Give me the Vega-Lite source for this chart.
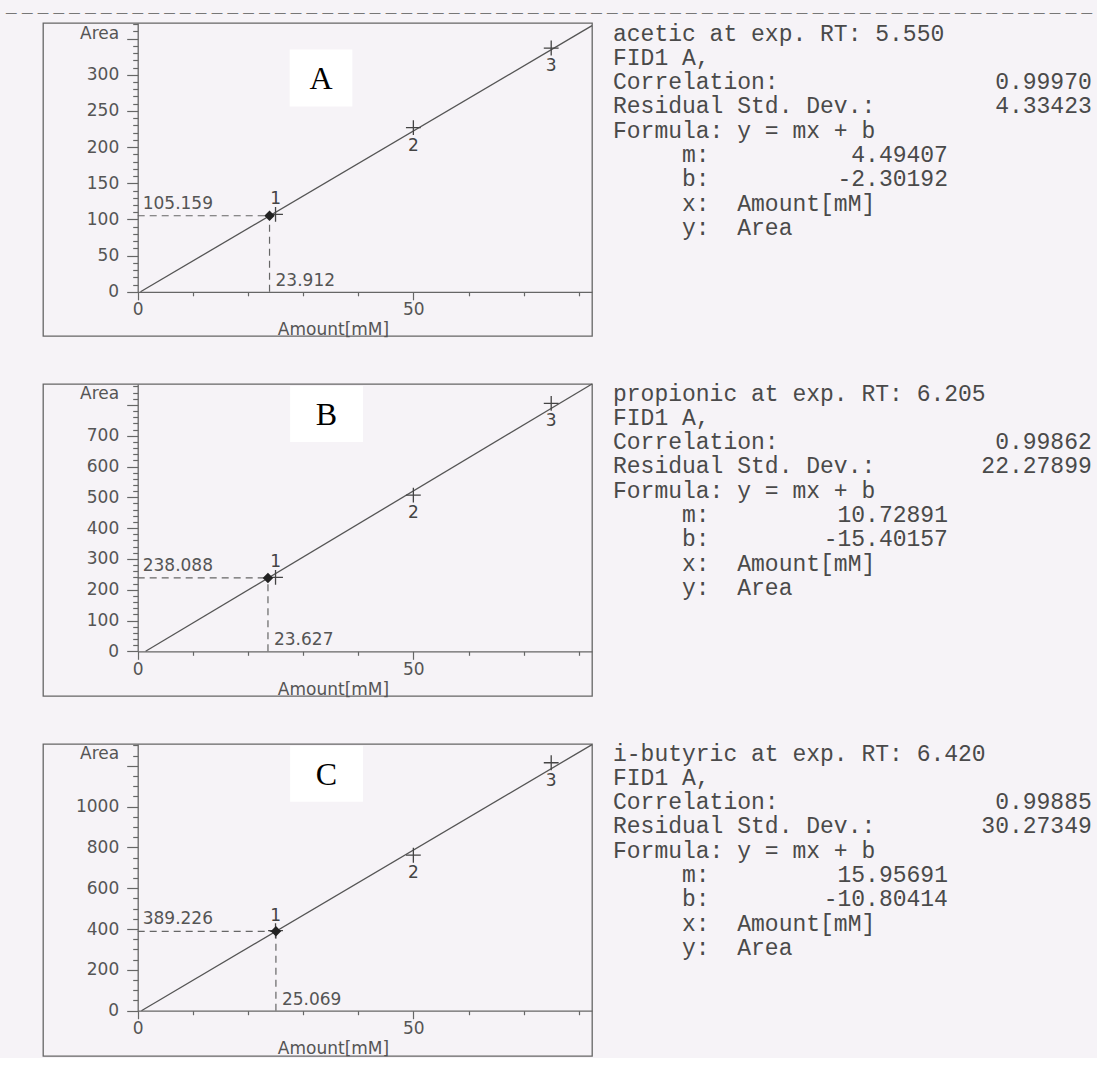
{
  "$schema": "https://vega.github.io/schema/vega-lite/v6.json",
  "background": "#f6f3f7",
  "padding": {"left": 5, "top": 6, "right": 0, "bottom": 0},
  "title": {
    "text": "— — — — — — — — — — — — — — — — — — — — — — — — — — — — — — — — — — — — — — — — — — — — — — — — — — — — — — — — — — — — — — — — — — — — —",
    "anchor": "start",
    "font": "DejaVu Sans",
    "fontSize": 12,
    "fontWeight": "normal",
    "color": "#777777",
    "dx": -37,
    "offset": -5
  },
  "datasets": {
    "fit": [
      {"panel": "A", "amount": 0.512, "area": 0},
      {"panel": "A", "amount": 82.4, "area": 368.0},
      {"panel": "B", "amount": 1.436, "area": 0},
      {"panel": "B", "amount": 82.4, "area": 867.9},
      {"panel": "C", "amount": 0.677, "area": 0},
      {"panel": "C", "amount": 82.4, "area": 1304.0}
    ],
    "calib": [
      {"panel": "A", "amount": 25, "area": 107, "n": "1"},
      {"panel": "A", "amount": 50, "area": 227, "n": "2"},
      {"panel": "A", "amount": 75, "area": 337, "n": "3"},
      {"panel": "B", "amount": 25, "area": 240, "n": "1"},
      {"panel": "B", "amount": 50, "area": 507, "n": "2"},
      {"panel": "B", "amount": 75, "area": 805, "n": "3"},
      {"panel": "C", "amount": 25, "area": 392, "n": "1"},
      {"panel": "C", "amount": 50, "area": 762, "n": "2"},
      {"panel": "C", "amount": 75, "area": 1215, "n": "3"}
    ],
    "unknown": [
      {"panel": "A", "amount": 23.912, "area": 105.159},
      {"panel": "B", "amount": 23.627, "area": 238.088},
      {"panel": "C", "amount": 25.069, "area": 389.226}
    ],
    "tags": [
      {"panel": "A", "amount": 33.25, "area": 295.6, "tag": "A"},
      {"panel": "B", "amount": 34.25, "area": 770.5, "tag": "B"},
      {"panel": "C", "amount": 34.25, "area": 1161.8, "tag": "C"}
    ],
    "info": [
      {"panel": "A", "line": 0, "label": "acetic at exp. RT: 5.550", "kind": "head", "value": ""},
      {"panel": "A", "line": 1, "label": "FID1 A,", "kind": "head", "value": ""},
      {"panel": "A", "line": 2, "label": "Correlation:", "kind": "stat", "value": "0.99970"},
      {"panel": "A", "line": 3, "label": "Residual Std. Dev.:", "kind": "stat", "value": "4.33423"},
      {"panel": "A", "line": 4, "label": "Formula: y = mx + b", "kind": "head", "value": ""},
      {"panel": "A", "line": 5, "label": "\u200b\u00a0\u00a0\u00a0\u00a0\u00a0m:", "kind": "coef", "value": "4.49407"},
      {"panel": "A", "line": 6, "label": "\u200b\u00a0\u00a0\u00a0\u00a0\u00a0b:", "kind": "coef", "value": "-2.30192"},
      {"panel": "A", "line": 7, "label": "\u200b\u00a0\u00a0\u00a0\u00a0\u00a0x:\u00a0\u00a0Amount[mM]", "kind": "head", "value": ""},
      {"panel": "A", "line": 8, "label": "\u200b\u00a0\u00a0\u00a0\u00a0\u00a0y:\u00a0\u00a0Area", "kind": "head", "value": ""},
      {"panel": "B", "line": 0, "label": "propionic at exp. RT: 6.205", "kind": "head", "value": ""},
      {"panel": "B", "line": 1, "label": "FID1 A,", "kind": "head", "value": ""},
      {"panel": "B", "line": 2, "label": "Correlation:", "kind": "stat", "value": "0.99862"},
      {"panel": "B", "line": 3, "label": "Residual Std. Dev.:", "kind": "stat", "value": "22.27899"},
      {"panel": "B", "line": 4, "label": "Formula: y = mx + b", "kind": "head", "value": ""},
      {"panel": "B", "line": 5, "label": "\u200b\u00a0\u00a0\u00a0\u00a0\u00a0m:", "kind": "coef", "value": "10.72891"},
      {"panel": "B", "line": 6, "label": "\u200b\u00a0\u00a0\u00a0\u00a0\u00a0b:", "kind": "coef", "value": "-15.40157"},
      {"panel": "B", "line": 7, "label": "\u200b\u00a0\u00a0\u00a0\u00a0\u00a0x:\u00a0\u00a0Amount[mM]", "kind": "head", "value": ""},
      {"panel": "B", "line": 8, "label": "\u200b\u00a0\u00a0\u00a0\u00a0\u00a0y:\u00a0\u00a0Area", "kind": "head", "value": ""},
      {"panel": "C", "line": 0, "label": "i-butyric at exp. RT: 6.420", "kind": "head", "value": ""},
      {"panel": "C", "line": 1, "label": "FID1 A,", "kind": "head", "value": ""},
      {"panel": "C", "line": 2, "label": "Correlation:", "kind": "stat", "value": "0.99885"},
      {"panel": "C", "line": 3, "label": "Residual Std. Dev.:", "kind": "stat", "value": "30.27349"},
      {"panel": "C", "line": 4, "label": "Formula: y = mx + b", "kind": "head", "value": ""},
      {"panel": "C", "line": 5, "label": "\u200b\u00a0\u00a0\u00a0\u00a0\u00a0m:", "kind": "coef", "value": "15.95691"},
      {"panel": "C", "line": 6, "label": "\u200b\u00a0\u00a0\u00a0\u00a0\u00a0b:", "kind": "coef", "value": "-10.80414"},
      {"panel": "C", "line": 7, "label": "\u200b\u00a0\u00a0\u00a0\u00a0\u00a0x:\u00a0\u00a0Amount[mM]", "kind": "head", "value": ""},
      {"panel": "C", "line": 8, "label": "\u200b\u00a0\u00a0\u00a0\u00a0\u00a0y:\u00a0\u00a0Area", "kind": "head", "value": ""}
    ]
  },
  "config": {
    "view": {"stroke": "#666666", "strokeWidth": 1.3},
    "axis": {
      "labelFont": "DejaVu Sans", "labelFontSize": 17, "labelColor": "#555555",
      "titleFont": "DejaVu Sans", "titleFontSize": 17, "titleColor": "#555555", "titleFontWeight": "normal",
      "domainColor": "#666666", "domainWidth": 1.3, "tickColor": "#666666", "tickWidth": 1.2,
      "grid": false, "labelFlush": false, "labelOverlap": false, "labelBound": false, "format": "d"
    },
    "text": {"font": "DejaVu Sans"}
  },
  "spacing": 37,
  "vconcat": [
    {
      "spacing": 15,
      "hconcat": [
        {
          "width": 549, "height": 313,
          "encoding": {
            "x": {"field": "amount", "type": "quantitative",
              "scale": {"domain": [0, 82.4], "range": [94.7, 549], "nice": false, "zero": false},
              "axis": {"orient": "bottom", "offset": -44.2, "values": [0,10,20,30,40,50,60,70,80],
                "labelExpr": "datum.value % 50 === 0 ? datum.label : ''", "labelFontSize": 17,
                "tickSize": {"condition": {"test": "datum.value % 50 === 0", "value": 8}, "value": 4},
                "labelPadding": 2, "title": "Amount[mM]", "titleX": 290, "titleY": 38,
                "titleAlign": "center", "titleBaseline": "middle"}},
            "y": {"field": "area", "type": "quantitative",
              "scale": {"domain": [0, 371.6], "range": [268.8, 0], "nice": false, "zero": false},
              "axis": {"orient": "left", "offset": -94.7,
                "values": [0,10,20,30,40,50,60,70,80,90,100,110,120,130,140,150,160,170,180,190,200,210,220,230,240,250,260,270,280,290,300,310,320,330,340,350,360,370],
                "labelExpr": "datum.value % 50 === 0 && datum.value <= 300 ? datum.label : ''", "labelFontSize": 17,
                "tickSize": {"condition": {"test": "datum.value % 50 === 0", "value": 11}, "value": 5},
                "labelPadding": 8, "title": "Area", "titleAngle": 0, "titleAlign": "right",
                "titleBaseline": "middle", "titleX": -19, "titleY": 10}}
          },
          "layer": [
            {"data": {"name": "fit"}, "transform": [{"filter": "datum.panel === 'A'"}],
             "mark": {"type": "line", "color": "#555555", "strokeWidth": 1.3}},
            {"data": {"name": "unknown"}, "transform": [{"filter": "datum.panel === 'A'"}],
             "mark": {"type": "rule", "color": "#666666", "strokeDash": [7, 5], "strokeWidth": 1.2},
             "encoding": {"x": {"datum": 0, "type": "quantitative"}, "x2": {"field": "amount"}}},
            {"data": {"name": "unknown"}, "transform": [{"filter": "datum.panel === 'A'"}],
             "mark": {"type": "rule", "color": "#666666", "strokeDash": [7, 5], "strokeWidth": 1.2},
             "encoding": {"y": {"datum": 0, "type": "quantitative"}, "y2": {"field": "area"}}},
            {"data": {"name": "calib"}, "transform": [{"filter": "datum.panel === 'A'"}],
             "mark": {"type": "point", "shape": "M-1,0H1M0,-1V1", "filled": false, "color": "#444444", "strokeWidth": 1.3, "size": 220, "opacity": 1}},
            {"data": {"name": "unknown"}, "transform": [{"filter": "datum.panel === 'A'"}],
             "mark": {"type": "point", "shape": "diamond", "filled": true, "color": "#222222", "size": 110, "opacity": 1}},
            {"data": {"name": "calib"}, "transform": [{"filter": "datum.panel === 'A' && datum.n === '1'"}],
             "mark": {"type": "text", "fontSize": 17, "color": "#444444", "dy": -15, "baseline": "middle"},
             "encoding": {"text": {"field": "n"}}},
            {"data": {"name": "calib"}, "transform": [{"filter": "datum.panel === 'A' && datum.n !== '1'"}],
             "mark": {"type": "text", "fontSize": 17, "color": "#444444", "dy": 18, "baseline": "middle"},
             "encoding": {"text": {"field": "n"}}},
            {"data": {"name": "unknown"}, "transform": [{"filter": "datum.panel === 'A'"}],
             "mark": {"type": "text", "fontSize": 17, "color": "#555555", "dx": 5, "dy": -12, "align": "left", "baseline": "middle"},
             "encoding": {"x": {"datum": 0, "type": "quantitative"}, "text": {"field": "area", "format": ".3f"}}},
            {"data": {"name": "unknown"}, "transform": [{"filter": "datum.panel === 'A'"}],
             "mark": {"type": "text", "fontSize": 17, "color": "#555555", "dx": 6, "dy": -11, "align": "left", "baseline": "middle"},
             "encoding": {"y": {"datum": 0, "type": "quantitative"}, "text": {"field": "amount", "format": ".3f"}}},
            {"data": {"name": "tags"}, "transform": [{"filter": "datum.panel === 'A'"}],
             "mark": {"type": "point", "shape": "M-1.1,-1H1.1V1H-1.1Z", "filled": true, "color": "#ffffff", "size": 3249, "opacity": 1, "strokeWidth": 0}},
            {"data": {"name": "tags"}, "transform": [{"filter": "datum.panel === 'A'"}],
             "mark": {"type": "text", "font": "Liberation Serif", "fontSize": 32, "color": "#000000", "align": "center", "baseline": "middle", "dy": 1},
             "encoding": {"text": {"field": "tag"}}}
          ]
        },
        {
          "width": 491, "height": 313,
          "view": {"stroke": null},
          "data": {"name": "info"},
          "transform": [{"filter": "datum.panel === 'A'"}],
          "encoding": {
            "y": {"field": "line", "type": "quantitative", "scale": {"domain": [0, 8], "range": [10.5, 205], "nice": false, "zero": false}, "axis": null}
          },
          "layer": [
            {"mark": {"type": "text", "font": "Liberation Mono", "fontSize": 23, "color": "#4a4a4a", "align": "left", "baseline": "middle"},
             "encoding": {"x": {"datum": 0.125, "type": "quantitative", "scale": {"domain": [0, 30.69], "range": [0, 491], "nice": false, "zero": false}, "axis": null}, "text": {"field": "label"}}},
            {"transform": [{"filter": "datum.kind === 'stat'"}],
             "mark": {"type": "text", "font": "Liberation Mono", "fontSize": 23, "color": "#4a4a4a", "align": "right", "baseline": "middle"},
             "encoding": {"x": {"datum": 30.05, "type": "quantitative"}, "text": {"field": "value"}}},
            {"transform": [{"filter": "datum.kind === 'coef'"}],
             "mark": {"type": "text", "font": "Liberation Mono", "fontSize": 23, "color": "#4a4a4a", "align": "right", "baseline": "middle"},
             "encoding": {"x": {"datum": 21.06, "type": "quantitative"}, "text": {"field": "value"}}}
          ]
        }
      ]
    },
    {
      "spacing": 15,
      "hconcat": [
        {
          "width": 549, "height": 312,
          "encoding": {
            "x": {"field": "amount", "type": "quantitative",
              "scale": {"domain": [0, 82.4], "range": [94.7, 549], "nice": false, "zero": false},
              "axis": {"orient": "bottom", "offset": -44.7, "values": [0,10,20,30,40,50,60,70,80],
                "labelExpr": "datum.value % 50 === 0 ? datum.label : ''", "labelFontSize": 17,
                "tickSize": {"condition": {"test": "datum.value % 50 === 0", "value": 8}, "value": 4},
                "labelPadding": 2, "title": "Amount[mM]", "titleX": 290, "titleY": 38,
                "titleAlign": "center", "titleBaseline": "middle"}},
            "y": {"field": "area", "type": "quantitative",
              "scale": {"domain": [0, 867.9], "range": [267.3, 0], "nice": false, "zero": false},
              "axis": {"orient": "left", "offset": -94.7,
                "values": [0,20,40,60,80,100,120,140,160,180,200,220,240,260,280,300,320,340,360,380,400,420,440,460,480,500,520,540,560,580,600,620,640,660,680,700,720,740,760,780,800,820,840,860],
                "labelExpr": "datum.value % 100 === 0 && datum.value <= 700 ? datum.label : ''", "labelFontSize": 17,
                "tickSize": {"condition": {"test": "datum.value % 100 === 0", "value": 11}, "value": 5},
                "labelPadding": 8, "title": "Area", "titleAngle": 0, "titleAlign": "right",
                "titleBaseline": "middle", "titleX": -19, "titleY": 9}}
          },
          "layer": [
            {"data": {"name": "fit"}, "transform": [{"filter": "datum.panel === 'B'"}],
             "mark": {"type": "line", "color": "#555555", "strokeWidth": 1.3}},
            {"data": {"name": "unknown"}, "transform": [{"filter": "datum.panel === 'B'"}],
             "mark": {"type": "rule", "color": "#666666", "strokeDash": [7, 5], "strokeWidth": 1.2},
             "encoding": {"x": {"datum": 0, "type": "quantitative"}, "x2": {"field": "amount"}}},
            {"data": {"name": "unknown"}, "transform": [{"filter": "datum.panel === 'B'"}],
             "mark": {"type": "rule", "color": "#666666", "strokeDash": [7, 5], "strokeWidth": 1.2},
             "encoding": {"y": {"datum": 0, "type": "quantitative"}, "y2": {"field": "area"}}},
            {"data": {"name": "calib"}, "transform": [{"filter": "datum.panel === 'B'"}],
             "mark": {"type": "point", "shape": "M-1,0H1M0,-1V1", "filled": false, "color": "#444444", "strokeWidth": 1.3, "size": 220, "opacity": 1}},
            {"data": {"name": "unknown"}, "transform": [{"filter": "datum.panel === 'B'"}],
             "mark": {"type": "point", "shape": "diamond", "filled": true, "color": "#222222", "size": 110, "opacity": 1}},
            {"data": {"name": "calib"}, "transform": [{"filter": "datum.panel === 'B' && datum.n === '1'"}],
             "mark": {"type": "text", "fontSize": 17, "color": "#444444", "dy": -15, "baseline": "middle"},
             "encoding": {"text": {"field": "n"}}},
            {"data": {"name": "calib"}, "transform": [{"filter": "datum.panel === 'B' && datum.n !== '1'"}],
             "mark": {"type": "text", "fontSize": 17, "color": "#444444", "dy": 18, "baseline": "middle"},
             "encoding": {"text": {"field": "n"}}},
            {"data": {"name": "unknown"}, "transform": [{"filter": "datum.panel === 'B'"}],
             "mark": {"type": "text", "fontSize": 17, "color": "#555555", "dx": 5, "dy": -12, "align": "left", "baseline": "middle"},
             "encoding": {"x": {"datum": 0, "type": "quantitative"}, "text": {"field": "area", "format": ".3f"}}},
            {"data": {"name": "unknown"}, "transform": [{"filter": "datum.panel === 'B'"}],
             "mark": {"type": "text", "fontSize": 17, "color": "#555555", "dx": 6, "dy": -11, "align": "left", "baseline": "middle"},
             "encoding": {"y": {"datum": 0, "type": "quantitative"}, "text": {"field": "amount", "format": ".3f"}}},
            {"data": {"name": "tags"}, "transform": [{"filter": "datum.panel === 'B'"}],
             "mark": {"type": "point", "shape": "M-1.3,-1H1.3V1H-1.3Z", "filled": true, "color": "#ffffff", "size": 3136, "opacity": 1, "strokeWidth": 0}},
            {"data": {"name": "tags"}, "transform": [{"filter": "datum.panel === 'B'"}],
             "mark": {"type": "text", "font": "Liberation Serif", "fontSize": 32, "color": "#000000", "align": "center", "baseline": "middle", "dy": 1},
             "encoding": {"text": {"field": "tag"}}}
          ]
        },
        {
          "width": 491, "height": 312,
          "view": {"stroke": null},
          "data": {"name": "info"},
          "transform": [{"filter": "datum.panel === 'B'"}],
          "encoding": {
            "y": {"field": "line", "type": "quantitative", "scale": {"domain": [0, 8], "range": [9.5, 204], "nice": false, "zero": false}, "axis": null}
          },
          "layer": [
            {"mark": {"type": "text", "font": "Liberation Mono", "fontSize": 23, "color": "#4a4a4a", "align": "left", "baseline": "middle"},
             "encoding": {"x": {"datum": 0.125, "type": "quantitative", "scale": {"domain": [0, 30.69], "range": [0, 491], "nice": false, "zero": false}, "axis": null}, "text": {"field": "label"}}},
            {"transform": [{"filter": "datum.kind === 'stat'"}],
             "mark": {"type": "text", "font": "Liberation Mono", "fontSize": 23, "color": "#4a4a4a", "align": "right", "baseline": "middle"},
             "encoding": {"x": {"datum": 30.05, "type": "quantitative"}, "text": {"field": "value"}}},
            {"transform": [{"filter": "datum.kind === 'coef'"}],
             "mark": {"type": "text", "font": "Liberation Mono", "fontSize": 23, "color": "#4a4a4a", "align": "right", "baseline": "middle"},
             "encoding": {"x": {"datum": 21.06, "type": "quantitative"}, "text": {"field": "value"}}}
          ]
        }
      ]
    },
    {
      "spacing": 15,
      "hconcat": [
        {
          "width": 549, "height": 312,
          "encoding": {
            "x": {"field": "amount", "type": "quantitative",
              "scale": {"domain": [0, 82.4], "range": [94.7, 549], "nice": false, "zero": false},
              "axis": {"orient": "bottom", "offset": -45.3, "values": [0,10,20,30,40,50,60,70,80],
                "labelExpr": "datum.value % 50 === 0 ? datum.label : ''", "labelFontSize": 17,
                "tickSize": {"condition": {"test": "datum.value % 50 === 0", "value": 8}, "value": 4},
                "labelPadding": 2, "title": "Amount[mM]", "titleX": 290, "titleY": 38,
                "titleAlign": "center", "titleBaseline": "middle"}},
            "y": {"field": "area", "type": "quantitative",
              "scale": {"domain": [0, 1307], "range": [266.7, 0], "nice": false, "zero": false},
              "axis": {"orient": "left", "offset": -94.7,
                "values": [0,50,100,150,200,250,300,350,400,450,500,550,600,650,700,750,800,850,900,950,1000,1050,1100,1150,1200,1250,1300],
                "labelExpr": "datum.value % 200 === 0 && datum.value <= 1000 ? datum.label : ''", "labelFontSize": 17,
                "tickSize": {"condition": {"test": "datum.value % 200 === 0", "value": 11}, "value": 5},
                "labelPadding": 8, "title": "Area", "titleAngle": 0, "titleAlign": "right",
                "titleBaseline": "middle", "titleX": -19, "titleY": 9}}
          },
          "layer": [
            {"data": {"name": "fit"}, "transform": [{"filter": "datum.panel === 'C'"}],
             "mark": {"type": "line", "color": "#555555", "strokeWidth": 1.3}},
            {"data": {"name": "unknown"}, "transform": [{"filter": "datum.panel === 'C'"}],
             "mark": {"type": "rule", "color": "#666666", "strokeDash": [7, 5], "strokeWidth": 1.2},
             "encoding": {"x": {"datum": 0, "type": "quantitative"}, "x2": {"field": "amount"}}},
            {"data": {"name": "unknown"}, "transform": [{"filter": "datum.panel === 'C'"}],
             "mark": {"type": "rule", "color": "#666666", "strokeDash": [7, 5], "strokeWidth": 1.2},
             "encoding": {"y": {"datum": 0, "type": "quantitative"}, "y2": {"field": "area"}}},
            {"data": {"name": "calib"}, "transform": [{"filter": "datum.panel === 'C'"}],
             "mark": {"type": "point", "shape": "M-1,0H1M0,-1V1", "filled": false, "color": "#444444", "strokeWidth": 1.3, "size": 220, "opacity": 1}},
            {"data": {"name": "unknown"}, "transform": [{"filter": "datum.panel === 'C'"}],
             "mark": {"type": "point", "shape": "diamond", "filled": true, "color": "#222222", "size": 110, "opacity": 1}},
            {"data": {"name": "calib"}, "transform": [{"filter": "datum.panel === 'C' && datum.n === '1'"}],
             "mark": {"type": "text", "fontSize": 17, "color": "#444444", "dy": -15, "baseline": "middle"},
             "encoding": {"text": {"field": "n"}}},
            {"data": {"name": "calib"}, "transform": [{"filter": "datum.panel === 'C' && datum.n !== '1'"}],
             "mark": {"type": "text", "fontSize": 17, "color": "#444444", "dy": 18, "baseline": "middle"},
             "encoding": {"text": {"field": "n"}}},
            {"data": {"name": "unknown"}, "transform": [{"filter": "datum.panel === 'C'"}],
             "mark": {"type": "text", "fontSize": 17, "color": "#555555", "dx": 5, "dy": -12, "align": "left", "baseline": "middle"},
             "encoding": {"x": {"datum": 0, "type": "quantitative"}, "text": {"field": "area", "format": ".3f"}}},
            {"data": {"name": "unknown"}, "transform": [{"filter": "datum.panel === 'C'"}],
             "mark": {"type": "text", "fontSize": 17, "color": "#555555", "dx": 6, "dy": -11, "align": "left", "baseline": "middle"},
             "encoding": {"y": {"datum": 0, "type": "quantitative"}, "text": {"field": "amount", "format": ".3f"}}},
            {"data": {"name": "tags"}, "transform": [{"filter": "datum.panel === 'C'"}],
             "mark": {"type": "point", "shape": "M-1.3,-1H1.3V1H-1.3Z", "filled": true, "color": "#ffffff", "size": 3136, "opacity": 1, "strokeWidth": 0}},
            {"data": {"name": "tags"}, "transform": [{"filter": "datum.panel === 'C'"}],
             "mark": {"type": "text", "font": "Liberation Serif", "fontSize": 32, "color": "#000000", "align": "center", "baseline": "middle", "dy": 1},
             "encoding": {"text": {"field": "tag"}}}
          ]
        },
        {
          "width": 491, "height": 312,
          "view": {"stroke": null},
          "data": {"name": "info"},
          "transform": [{"filter": "datum.panel === 'C'"}],
          "encoding": {
            "y": {"field": "line", "type": "quantitative", "scale": {"domain": [0, 8], "range": [9.5, 204], "nice": false, "zero": false}, "axis": null}
          },
          "layer": [
            {"mark": {"type": "text", "font": "Liberation Mono", "fontSize": 23, "color": "#4a4a4a", "align": "left", "baseline": "middle"},
             "encoding": {"x": {"datum": 0.125, "type": "quantitative", "scale": {"domain": [0, 30.69], "range": [0, 491], "nice": false, "zero": false}, "axis": null}, "text": {"field": "label"}}},
            {"transform": [{"filter": "datum.kind === 'stat'"}],
             "mark": {"type": "text", "font": "Liberation Mono", "fontSize": 23, "color": "#4a4a4a", "align": "right", "baseline": "middle"},
             "encoding": {"x": {"datum": 30.05, "type": "quantitative"}, "text": {"field": "value"}}},
            {"transform": [{"filter": "datum.kind === 'coef'"}],
             "mark": {"type": "text", "font": "Liberation Mono", "fontSize": 23, "color": "#4a4a4a", "align": "right", "baseline": "middle"},
             "encoding": {"x": {"datum": 21.06, "type": "quantitative"}, "text": {"field": "value"}}}
          ]
        }
      ]
    }
  ]
}
